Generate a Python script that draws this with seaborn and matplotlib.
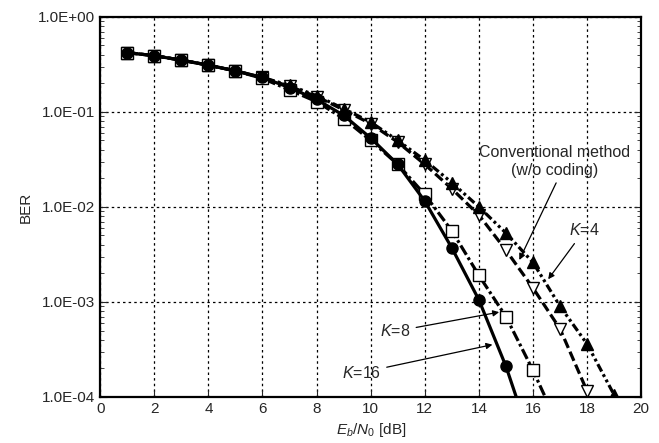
import numpy as np
import pandas as pd
import seaborn as sns
import matplotlib.pyplot as plt
from matplotlib.ticker import FixedLocator, LogLocator, NullFormatter

# valores
snr_k16 = list(range(1, 16))
ber_k16 = [0.42, 0.39, 0.35, 0.31, 0.27, 0.23, 0.18, 0.135, 0.092, 0.053,
           0.028, 0.0115, 0.0037, 0.00105, 0.00021]

snr_k8 = list(range(1, 17))
ber_k8 = [0.42, 0.39, 0.35, 0.31, 0.27, 0.225, 0.17, 0.128, 0.085, 0.05,
          0.028, 0.0135, 0.0056, 0.0019, 0.0007, 0.00019]

snr_conv = list(range(1, 19))
ber_conv = [0.42, 0.39, 0.35, 0.31, 0.27, 0.23, 0.185, 0.145, 0.105, 0.075,
            0.048, 0.028, 0.0155, 0.0082, 0.0035, 0.0014, 0.00052, 0.000115]

snr_k4 = list(range(1, 20))
ber_k4 = [0.42, 0.39, 0.35, 0.31, 0.27, 0.23, 0.19, 0.148, 0.108, 0.078,
          0.05, 0.031, 0.018, 0.0100, 0.0053, 0.0026, 0.0009, 0.00036, 0.000105]

# onde as curvas saem pelo eixo inferior (sem marcador)
fim_k16 = (15.38, 1e-4)
fim_k8 = (16.45, 1e-4)

x_ticks = list(range(0, 21, 2))
y_ticks = [1e-4, 1e-3, 1e-2, 1e-1, 1e0]
y_tick_labels = ["1.0E-04", "1.0E-03", "1.0E-02", "1.0E-01", "1.0E+00"]

sns.set_style("ticks")
plt.rcParams['font.family'] = ['Liberation Sans', 'DejaVu Sans']
plt.rcParams['mathtext.fontset'] = 'custom'
plt.rcParams['mathtext.it'] = 'Liberation Sans:italic'
plt.rcParams['mathtext.rm'] = 'Liberation Sans'

fig = plt.figure(figsize=(6.59, 4.43), dpi=100)
ax = fig.add_axes([0.152, 0.104, 0.821, 0.858])

# (x, y, fim da curva, estilo da linha, marcador, preenchimento)
series = [
    (snr_conv, ber_conv, None, (0, (3.1, 1.3)), "v", "white"),
    (snr_k4, ber_k4, None, (0, (2.6, 1.0, 0.9, 1.0, 0.9, 1.0)), "^", "black"),
    (snr_k8, ber_k8, fim_k8, (0, (3.4, 1.0, 0.9, 1.0)), "s", "white"),
    (snr_k16, ber_k16, fim_k16, "-", "o", "black"),
]

for snr, ber, fim, ls, mk, fc in series:
    xs = list(snr)
    ys = list(ber)
    if fim is not None:
        xs.append(fim[0])
        ys.append(fim[1])
    dados = pd.DataFrame({'snr': xs, 'ber': ys})
    sns.lineplot(x='snr', y='ber', data=dados, ax=ax, color="black",
                 linestyle=ls, linewidth=2.3, marker=mk, markersize=8,
                 markerfacecolor=fc, markeredgecolor="black",
                 markeredgewidth=1.0, markevery=list(range(len(snr))))

ax.set_yscale('log')
ax.set_xlim(0, 20)
ax.set_ylim(1e-4, 1)
ax.xaxis.set_major_locator(FixedLocator(x_ticks))
ax.set_xticklabels([str(t) for t in x_ticks], fontsize=11)
ax.yaxis.set_major_locator(FixedLocator(y_ticks))
ax.set_yticklabels(y_tick_labels, fontsize=11)
ax.yaxis.set_minor_locator(LogLocator(base=10, subs=np.arange(2, 10)))
ax.yaxis.set_minor_formatter(NullFormatter())
ax.tick_params(axis='both', which='both', direction='in', right=True)
ax.tick_params(which='major', length=5)
ax.tick_params(which='minor', length=3)
ax.grid(True, which='major', color='black', linestyle=(0, (2, 2.5)), linewidth=0.9)
for s in ax.spines.values():
    s.set_linewidth(1.6)
    s.set_color('black')

ax.set_xlabel(r"$E_b/N_0$ [dB]", fontsize=11, labelpad=4)
ax.set_ylabel("BER", fontsize=11)

arrow = dict(arrowstyle="-|>", color="black", lw=0.9, mutation_scale=9)
ax.text(16.8, 0.03, "Conventional method\n(w/o coding)", ha='center', va='center',
        fontsize=11.5, linespacing=1.25)
ax.annotate("", xy=(15.45, 2.6e-3), xytext=(16.9, 1.9e-2), arrowprops=arrow)
ax.annotate(r"$K$=4", xy=(16.5, 1.64e-3), xytext=(17.9, 5.7e-3), fontsize=11.5,
            ha='center', va='center', arrowprops=arrow)
ax.annotate(r"$K$=8", xy=(14.85, 7.9e-4), xytext=(10.9, 4.9e-4), fontsize=11.5,
            ha='center', va='center', arrowprops=arrow)
ax.annotate(r"$K$=16", xy=(14.6, 3.6e-4), xytext=(9.65, 1.8e-4), fontsize=11.5,
            ha='center', va='center', arrowprops=arrow)

plt.savefig('out.png', dpi=100)
